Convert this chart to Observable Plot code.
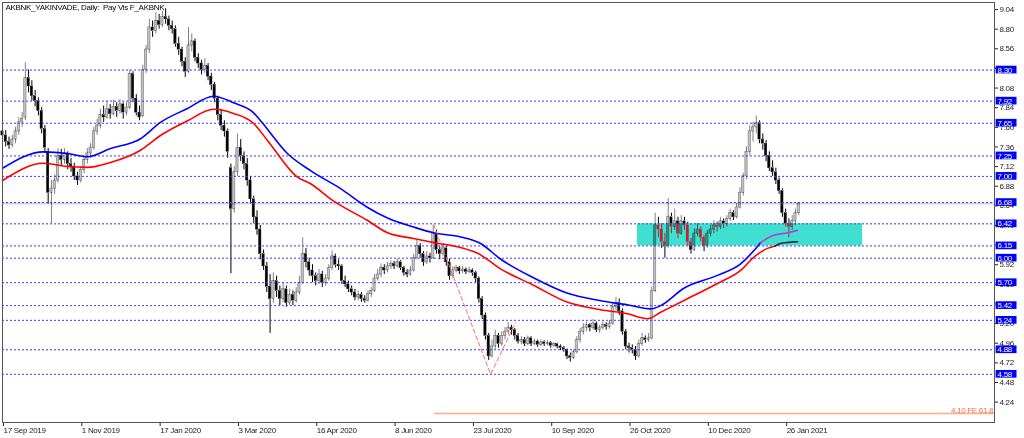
<!DOCTYPE html>
<html><head><meta charset="utf-8">
<script src="https://cdn.jsdelivr.net/npm/d3@7"></script>
<script src="https://cdn.jsdelivr.net/npm/@observablehq/plot@0.6"></script>
<style>body{margin:0;background:#fff;}</style>
</head><body><div id="chart"></div>
<script>
const titleText = "AKBNK_YAKINVADE, Daily:  Pay Vis F_AKBNK";
const dateLabels = ["17 Sep 2019","1 Nov 2019","17 Jan 2020","3 Mar 2020","16 Apr 2020","8 Jun 2020","23 Jul 2020","10 Sep 2020","26 Oct 2020","10 Dec 2020","26 Jan 2021"];
const labelBars = [0,24,48,72,96,120,144,168,192,216,240];
const yTicks = [9.04,8.80,8.56,8.32,8.08,7.84,7.60,7.36,7.12,6.88,6.64,6.40,6.16,5.92,5.68,5.44,5.20,4.96,4.72,4.48,4.24];
const levels = [8.30,7.92,7.65,7.25,7.00,6.68,6.42,6.15,6.00,5.70,5.42,5.24,4.88,4.58];

const opens = [7.55,7.50,7.42,7.38,7.45,7.55,7.66,7.72,8.20,8.10,
7.98,7.92,7.80,7.58,7.30,6.80,6.85,6.95,7.25,7.20,
7.28,7.15,7.12,7.00,6.95,7.08,7.20,7.28,7.35,7.55,
7.62,7.75,7.72,7.82,7.76,7.85,7.80,7.88,7.78,7.84,
8.25,7.95,7.78,7.74,8.30,8.55,8.82,8.78,8.90,8.85,
8.95,8.92,8.84,8.80,8.62,8.55,8.40,8.28,8.60,8.65,
8.45,8.38,8.30,8.35,8.22,8.12,7.95,7.75,7.62,7.55,
7.10,6.60,7.05,7.35,7.25,7.15,6.95,6.72,6.50,6.35,
6.05,5.90,5.65,5.50,5.72,5.60,5.50,5.62,5.45,5.55,
5.48,5.58,5.70,6.05,5.95,5.85,5.78,5.72,5.80,5.70,
5.75,5.88,6.02,5.92,5.90,5.72,5.68,5.62,5.58,5.52,
5.55,5.50,5.48,5.56,5.60,5.75,5.80,5.88,5.85,5.90,
5.93,5.90,5.95,5.88,5.82,5.80,5.85,6.00,6.15,6.05,
5.95,6.02,6.00,6.30,6.10,6.05,6.12,5.95,5.78,5.85,
5.88,5.84,5.86,5.83,5.85,5.82,5.75,5.50,5.30,5.05,
4.80,4.92,5.05,4.95,5.05,5.10,5.15,5.12,5.05,4.98,
5.00,4.95,5.02,4.95,4.98,4.94,4.97,4.95,4.96,4.93,
4.95,4.92,4.90,4.88,4.80,4.78,4.85,5.00,5.10,5.15,
5.18,5.15,5.20,5.12,5.15,5.18,5.16,5.20,5.40,5.45,
5.35,5.10,4.92,4.90,4.88,4.80,4.95,5.02,5.00,5.02,
5.60,6.40,6.35,6.20,6.15,6.50,6.38,6.45,6.30,6.45,
6.40,6.20,6.10,6.30,6.35,6.25,6.15,6.30,6.35,6.40,
6.38,6.45,6.42,6.48,6.55,6.50,6.62,6.80,7.00,7.30,
7.55,7.60,7.65,7.45,7.40,7.25,7.10,7.05,6.95,6.82,
6.55,6.42,6.38,6.45,6.55];

const highs = [7.62,7.56,7.48,7.50,7.60,7.72,7.78,8.39,8.30,8.17,
8.05,7.96,7.84,7.62,7.34,6.95,7.02,7.34,7.33,7.34,
7.30,7.22,7.16,7.05,7.12,7.25,7.34,7.40,7.60,7.70,
7.82,7.86,7.92,7.88,7.93,7.90,7.94,7.90,7.90,8.30,
8.28,8.00,7.86,8.36,8.60,8.92,8.90,9.00,8.98,9.02,
9.05,8.96,8.90,8.84,8.70,8.58,8.45,8.82,8.74,8.68,
8.50,8.42,8.44,8.38,8.26,8.15,7.98,7.82,7.68,7.58,
7.15,7.12,7.52,7.45,7.30,7.22,7.00,6.76,6.58,6.40,
6.10,5.95,5.80,5.82,5.78,5.66,5.70,5.66,5.62,5.60,
5.64,5.78,6.25,6.12,6.00,5.92,5.82,5.86,5.84,5.80,
5.92,6.09,6.05,5.98,5.92,5.78,5.72,5.66,5.62,5.60,
5.58,5.54,5.60,5.64,5.80,5.86,5.93,5.92,5.95,5.97,
5.96,5.99,5.97,5.90,5.86,5.90,6.05,6.22,6.18,6.08,
6.08,6.06,6.40,6.34,6.14,6.18,6.15,5.99,5.90,5.91,
5.90,5.90,5.88,5.89,5.87,5.84,5.77,5.53,5.33,5.08,
5.00,5.12,5.08,5.10,5.15,5.21,5.18,5.14,5.08,5.04,
5.03,5.05,5.04,5.01,5.00,5.00,4.99,4.99,4.98,4.97,
4.96,4.94,4.92,4.89,4.84,4.88,5.04,5.14,5.20,5.22,
5.20,5.25,5.22,5.18,5.22,5.21,5.24,5.46,5.52,5.50,
5.38,5.13,4.96,4.94,4.92,5.00,5.08,5.05,5.08,5.65,
6.55,6.50,6.42,6.30,6.73,6.55,6.60,6.50,6.52,6.50,
6.44,6.24,6.36,6.42,6.38,6.28,6.34,6.40,6.46,6.44,
6.50,6.48,6.52,6.60,6.58,6.67,6.86,7.04,7.36,7.62,
7.66,7.74,7.68,7.52,7.44,7.30,7.19,7.10,6.98,6.85,
6.60,6.48,6.52,6.60,6.68];

const lows = [7.44,7.36,7.33,7.35,7.40,7.50,7.60,7.68,8.02,7.92,
7.85,7.74,7.52,7.28,6.66,6.42,6.78,6.92,7.12,7.15,
7.08,7.05,6.95,6.89,6.92,7.03,7.15,7.22,7.32,7.50,
7.58,7.66,7.70,7.70,7.74,7.72,7.76,7.70,7.74,7.82,
7.90,7.74,7.68,7.72,8.26,8.50,8.70,8.74,8.80,8.82,
8.86,8.78,8.74,8.58,8.48,8.34,8.21,8.26,8.52,8.40,
8.32,8.24,8.26,8.17,8.05,7.90,7.68,7.56,7.48,7.22,
5.81,6.55,7.00,7.18,7.08,6.88,6.66,6.42,6.28,5.98,
5.85,5.58,5.08,5.45,5.52,5.42,5.46,5.40,5.42,5.42,
5.45,5.55,5.68,5.88,5.78,5.70,5.66,5.68,5.64,5.66,
5.72,5.85,5.88,5.85,5.68,5.64,5.58,5.54,5.48,5.48,
5.46,5.45,5.46,5.52,5.58,5.72,5.76,5.80,5.82,5.86,
5.86,5.88,5.85,5.78,5.76,5.78,5.83,5.98,6.00,5.90,
5.92,5.94,5.98,6.05,5.98,6.02,5.90,5.73,5.75,5.82,
5.80,5.81,5.80,5.81,5.78,5.70,5.45,5.25,5.00,4.75,
4.78,4.88,4.90,4.92,5.00,5.06,5.06,5.00,4.95,4.94,
4.92,4.93,4.92,4.93,4.91,4.92,4.92,4.93,4.90,4.91,
4.89,4.87,4.85,4.76,4.73,4.76,4.83,4.96,5.06,5.10,
5.10,5.12,5.09,5.08,5.12,5.12,5.13,5.18,5.36,5.30,
5.06,4.88,4.84,4.83,4.75,4.78,4.92,4.96,4.97,5.00,
5.58,6.25,6.12,6.00,6.12,6.30,6.34,6.24,6.28,6.34,
6.15,6.05,6.08,6.26,6.20,6.08,6.12,6.26,6.30,6.32,
6.35,6.36,6.38,6.45,6.46,6.48,6.60,6.76,6.96,7.25,
7.42,7.52,7.40,7.32,7.18,7.06,7.00,6.90,6.78,6.50,
6.38,6.25,6.34,6.40,6.52];

const closes = [7.50,7.42,7.38,7.45,7.55,7.66,7.70,8.20,8.10,7.98,
7.92,7.80,7.58,7.35,6.80,6.85,6.95,7.25,7.20,7.28,
7.15,7.12,7.00,6.95,7.08,7.20,7.28,7.35,7.55,7.62,
7.75,7.72,7.82,7.76,7.85,7.80,7.88,7.78,7.84,8.25,
7.95,7.78,7.72,8.30,8.55,8.82,8.78,8.90,8.85,8.95,
8.92,8.84,8.80,8.62,8.55,8.40,8.28,8.60,8.65,8.45,
8.38,8.30,8.35,8.22,8.12,7.95,7.75,7.62,7.55,7.30,
6.60,7.05,7.35,7.25,7.15,6.95,6.72,6.50,6.35,6.05,
5.90,5.65,5.50,5.72,5.60,5.50,5.62,5.45,5.55,5.48,
5.58,5.70,6.05,5.95,5.85,5.78,5.72,5.80,5.70,5.75,
5.88,6.02,5.92,5.90,5.72,5.68,5.62,5.58,5.52,5.55,
5.50,5.48,5.56,5.60,5.75,5.80,5.88,5.85,5.90,5.93,
5.90,5.95,5.88,5.82,5.80,5.85,6.00,6.15,6.05,5.95,
6.02,6.00,6.30,6.10,6.05,6.12,5.95,5.78,5.85,5.88,
5.84,5.86,5.83,5.85,5.82,5.75,5.50,5.30,5.05,4.80,
4.92,5.05,4.95,5.05,5.10,5.15,5.12,5.05,4.98,5.00,
4.95,5.02,4.95,4.98,4.94,4.97,4.95,4.96,4.93,4.95,
4.92,4.90,4.88,4.80,4.78,4.85,5.00,5.10,5.15,5.18,
5.15,5.20,5.12,5.15,5.18,5.16,5.20,5.40,5.45,5.35,
5.10,4.92,4.90,4.88,4.80,4.95,5.02,5.00,5.02,5.60,
6.40,6.35,6.20,6.15,6.50,6.38,6.45,6.30,6.45,6.40,
6.20,6.10,6.30,6.35,6.25,6.15,6.30,6.35,6.40,6.38,
6.45,6.42,6.48,6.55,6.50,6.62,6.80,7.00,7.30,7.55,
7.60,7.65,7.45,7.40,7.25,7.10,7.05,6.95,6.82,6.55,
6.42,6.38,6.45,6.55,6.67];

// Moving averages (sampled at bar positions)
const blueBars = [0,12.6,19.9,26,33.1,42.3,48.4,56.7,64.7,70.8,76.9,79.1,87.3,94.4,103.6,111.9,118,126,132.1,140.4,146.5,152.6,162.7,173.2,183.3,191.5,198.6,201.7,208.7,219.1,226.2,230.2,232.3,236.3,240.6,243.6];
const blueVals = [7.10,7.30,7.28,7.24,7.34,7.46,7.66,7.83,7.98,7.90,7.78,7.68,7.28,7.07,6.85,6.62,6.49,6.38,6.31,6.26,6.18,5.99,5.76,5.57,5.48,5.43,5.38,5.42,5.63,5.79,5.93,6.09,6.19,6.28,6.31,6.34];
const redBars = [0,12.6,19.9,26,33.1,42.3,48.4,56.7,64.7,70.8,76.9,81.2,90.4,94.4,101.4,111.9,118,126,132.1,140.4,145.6,152.6,162.7,173.2,183.3,191.5,197.7,201.7,208.7,219.1,226.2,230.2,234.4,236.9,238.4,243.6];
const redVals = [6.95,7.16,7.12,7.11,7.17,7.32,7.50,7.68,7.82,7.77,7.65,7.44,6.99,6.91,6.70,6.46,6.31,6.24,6.19,6.13,6.06,5.87,5.67,5.46,5.37,5.32,5.26,5.34,5.48,5.69,5.85,6.01,6.12,6.15,6.18,6.20];
const blueSplit = 232.3, redSplit = 236.9;

// Drawing objects
const fibBars = [132.1, 149.6, 157.2];
const fibVals = [6.41, 4.58, 5.21];
const boxBars = [194.6, 263.6];
const boxVals = [6.15, 6.42];
const feLevel = 4.10, feStartBar = 132.4, feLabel = "4.10 FE 61.8";

const bars = closes.map((c, i) => ({i, o: opens[i], h: highs[i], l: lows[i], c, top: Math.max(opens[i], c), bot: Math.min(opens[i], c)}));
const upBars = bars.filter(d => d.c >= d.o);
const dnBars = bars.filter(d => d.c < d.o);
const blue = blueBars.map((b, k) => ({b, v: blueVals[k]}));
const red = redBars.map((b, k) => ({b, v: redVals[k]}));
const fib = fibBars.map((b, k) => ({b, v: fibVals[k]}));
const lastClose = closes[closes.length - 1];

const chart = Plot.plot({
  width: 1024, height: 438,
  marginLeft: 2, marginRight: 30, marginTop: 2, marginBottom: 16,
  x: {domain: [0, 304]},
  y: {domain: [3.991, 9.126]},
  style: {fontFamily: "'Liberation Sans',sans-serif", fontSize: "8px", letterSpacing: "-0.3px", background: "white", overflow: "visible"},
  marks: [
    Plot.frame({fill: "white"}),
    Plot.ruleY([lastClose], {stroke: "#d6d6d6", strokeWidth: 2}),
    Plot.rect([0], {x1: () => boxBars[0], x2: () => boxBars[1], y1: () => boxVals[0], y2: () => boxVals[1], fill: "#40e0d0"}),
    // candles (inverted drawing like the original terminal)
    Plot.ruleX(upBars, {x: "i", y1: "l", y2: "bot", stroke: "#7f7f7f", strokeWidth: 1, mixBlendMode: "difference"}),
    Plot.ruleX(upBars, {x: "i", y1: "top", y2: "h", stroke: "#7f7f7f", strokeWidth: 1, mixBlendMode: "difference"}),
    Plot.ruleX(dnBars, {x: "i", y1: "l", y2: "bot", stroke: "#ffffff", strokeWidth: 1, mixBlendMode: "difference"}),
    Plot.ruleX(dnBars, {x: "i", y1: "top", y2: "h", stroke: "#ffffff", strokeWidth: 1, mixBlendMode: "difference"}),
    Plot.rect(upBars, {x1: d => d.i - 0.34, x2: d => d.i + 0.34, y1: "bot", y2: "top", fill: "#3c3c3c", stroke: "#7f7f7f", strokeWidth: 0.7, mixBlendMode: "difference"}),
    Plot.rect(dnBars, {x1: d => d.i - 0.34, x2: d => d.i + 0.34, y1: "bot", y2: "top", fill: "#ffffff", stroke: "#ffffff", strokeWidth: 0.5, mixBlendMode: "difference"}),
    // horizontal levels
    Plot.ruleY(levels, {stroke: "#3a3aff", strokeDasharray: "2,2", strokeWidth: 1}),
    // moving averages
    Plot.line(blue.filter(d => d.b <= blueSplit), {x: "b", y: "v", stroke: "#0000ff", strokeWidth: 1.6, curve: "monotone-x"}),
    Plot.line(blue.filter(d => d.b >= blueSplit), {x: "b", y: "v", stroke: "#b040d8", strokeWidth: 1.6, curve: "monotone-x"}),
    Plot.line(red.filter(d => d.b <= redSplit), {x: "b", y: "v", stroke: "#ff0000", strokeWidth: 1.6, curve: "monotone-x"}),
    Plot.line(red.filter(d => d.b >= redSplit), {x: "b", y: "v", stroke: "#202020", strokeWidth: 1.6, curve: "monotone-x"}),
    // fibonacci legs & expansion
    Plot.line(fib, {x: "b", y: "v", stroke: "#ff6a6a", strokeWidth: 1, strokeDasharray: "4,3"}),
    Plot.ruleY([feLevel], {x1: () => feStartBar, x2: () => 304, stroke: "#ffab8a", strokeWidth: 1.5}),
    Plot.text([feLabel], {x: () => 303.6, y: () => feLevel, lineAnchor: "bottom", dy: -1, textAnchor: "end", fill: "#ff6a3d", fontSize: 8}),
    // title
    Plot.text([titleText], {frameAnchor: "top-left", dx: 3, dy: 2, lineAnchor: "top", textAnchor: "start", fill: "#000", fontSize: 8}),
    // axes
    Plot.axisY(yTicks, {anchor: "right", tickSize: 3, tickPadding: 2, tickFormat: d => d.toFixed(2), label: null, color: "#222", fontSize: 8}),
    Plot.axisX(labelBars, {anchor: "bottom", tickSize: 4, tickPadding: 1, textAnchor: "start", dx: 1, tickFormat: d => dateLabels[labelBars.indexOf(d)], label: null, color: "#222", fontSize: 8}),
    // level label boxes
    Plot.rect(levels, {x1: () => 304.5, x2: () => 310.9, y1: d => d - 0.047, y2: d => d + 0.047, fill: "#0000ff"}),
    Plot.text(levels, {x: () => 304.95, y: d => d, text: d => d.toFixed(2), fill: "white", textAnchor: "start", fontSize: 8}),
    Plot.frame({stroke: "#555"})
  ]
});
document.getElementById("chart").append(chart);
</script>
</body></html>
